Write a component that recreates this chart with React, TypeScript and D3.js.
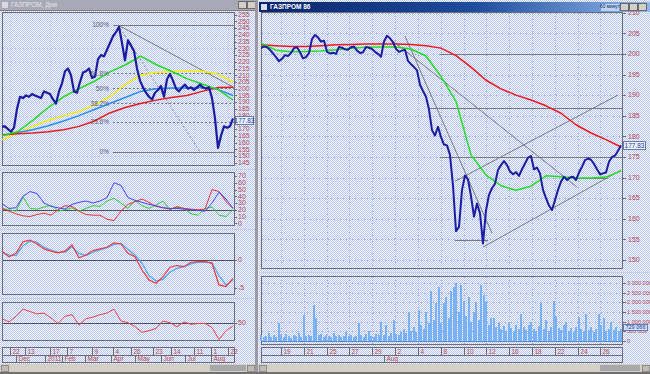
import React from "react";
import * as d3 from "d3";

const W = 650;
const H = 374;

// ---------------- LEFT WINDOW (daily) ----------------
const leftClose = [
  171.8, 172, 170, 168, 171, 185, 194, 193, 195, 194, 196, 195, 194, 193, 198, 197, 196, 192, 189, 198,
  204, 213, 215, 210, 198, 197, 205, 212, 213, 215, 208, 209, 222, 225, 224, 229, 234, 239, 242, 246,
  234, 221, 236, 232, 228, 215, 206, 201, 197, 194, 192, 197, 199, 202, 194, 207, 211, 206, 200, 198,
  201, 203, 200, 201, 199, 201, 203, 201, 200, 201, 193, 178, 156, 165, 172, 171, 172, 178,
];
const leftMaGreen = [165, 168, 176.5, 186, 194, 200, 205.5, 212.5, 217.6, 224.2, 218, 213, 207.5, 203.5, 199.5, 191.6];
const leftMaYellow = [162, 167, 172, 176.5, 180, 183, 188, 194, 203, 210, 212, 212.8, 213, 213, 211, 205];
const leftMaBlue = [165.6, 167.5, 169.5, 172.5, 176, 180, 184.5, 189, 193.5, 198, 200, 200.5, 200.5, 201, 199.5, 195];
const leftMaRed = [165.6, 166.5, 167, 168, 169.5, 172, 176, 182, 186, 189, 191.5, 193.5, 195, 198, 200.8, 201];

const adxBlue = [29, 22, 23, 40, 47, 44, 30, 25, 23, 21, 28, 31, 33, 30, 33, 38, 60, 56, 38, 34, 31, 28, 26, 23, 22, 22, 21, 20, 19, 18, 30, 46, 36, 22];
const adxGreen = [22, 20, 18, 39, 22, 21, 24, 27, 18, 20, 23, 18, 22, 26, 25, 33, 37, 30, 22, 34, 26, 22, 27, 33, 20, 25, 22, 14, 12, 22, 24, 12, 10, 20];
const adxRed = [22, 18, 14, 11, 10, 13, 15, 12, 20, 26, 25, 18, 13, 12, 12, 6, 4, 18, 28, 32, 36, 31, 25, 23, 21, 24, 22, 21, 20, 21, 50, 47, 32, 22];
const macdMain = [1.6, 0.6, 1.2, 3.3, 3.6, 2.9, 2.0, 1.6, 1.3, 1.6, 2.7, 0.4, 0.9, 1.7, 2.0, 2.3, 3.1, 2.9, 1.2, 0.6, -1.8, -3.6, -4.2, -3.0, -1.3, -1.0, -1.2, -0.4, -0.3, -0.3, -0.6, -4.5, -4.8, -3.3];
const macdSignal = [1.4, 0.9, 0.8, 2.6, 3.4, 3.2, 2.3, 1.8, 1.4, 1.4, 2.4, 1.2, 0.8, 1.4, 1.8, 2.2, 2.8, 3.0, 1.9, 0.9, -0.6, -2.8, -3.8, -3.5, -2.2, -1.5, -1.2, -0.7, -0.4, -0.4, -0.5, -2.8, -4.5, -3.6];
const rsiLine = [55, 51, 58, 67, 64, 61, 62, 56, 49, 58, 60, 47, 55, 57, 60, 62, 67, 52, 50, 45, 38, 40, 43, 52, 50, 45, 51, 48, 49, 49, 44, 29, 40, 46];

const leftPriceTicks = [255, 250, 245, 240, 235, 230, 225, 220, 215, 210, 205, 200, 195, 190, 185, 180, 175, 170, 165, 160, 155, 150, 145];
const adxTicks = [70, 60, 50, 40, 30, 20, 10, 0];
const leftDayDates = ["2010-11-22", "2010-12-13", "2011-01-17", "2011-02-07", "2011-03-09", "2011-04-04", "2011-04-26", "2011-05-23", "2011-06-14", "2011-07-11", "2011-08-01", "2011-08-22"];
const leftDayLabels = ["22", "13", "17", "7", "9", "4", "26", "23", "14", "11", "1", "22"];
const leftMonthDates = ["2010-12-01", "2011-01-11", "2011-02-01", "2011-03-01", "2011-04-01", "2011-05-01", "2011-06-01", "2011-07-01", "2011-08-01"];
const leftMonthLabels = ["Dec", "2011", "Feb", "Mar", "Apr", "May", "Jun", "Jul", "Aug"];

const fibLevels = [1, 0.618, 0.5, 0.382, 0.236, 0];
const fibLabels = ["100%", "61.8%", "50%", "38.2%", "23.6%", "0%"];
const fibHigh = 247.3;
const fibLow = 153.2;
const fibStartIndex = 37;
const leftTrend = [[38.7, 247.3], [77.7, 200.5]];
const leftDashed = [[38.7, 247.3], [66, 153]];
const leftLastValue = 177.83;
const leftLast = "177.83";

// ---------------- RIGHT WINDOW (hourly) ----------------
const rightClose = [
  201.4, 201.8, 201.6, 201.0, 200.1, 199.2, 198.2, 198.8, 199.7, 199.5, 200.2, 201.4, 201.6, 200.4, 198.9, 199.2, 200.2, 203.6, 204.6, 204.0,
  203.0, 203.2, 200.5, 200.1, 200.3, 200.0, 201.7, 201.5, 201.1, 201.0, 201.6, 201.8, 200.8, 200.2, 200.4, 201.7, 201.5, 201.2, 200.5, 200.0,
  199.3, 203.0, 204.4, 203.8, 202.8, 201.2, 200.5, 200.8, 201.0, 198.3, 197.5, 196.8, 196.0, 192.5, 191.0, 189.6, 186.5, 181.5, 180.2, 182.3,
  179.8, 178.0, 177.8, 175.5, 168.0, 157.0, 158.0, 167.0, 170.5, 169.5, 165.5, 160.5, 163.7, 161.3, 154.0, 162.0, 165.8, 167.4, 168.5, 171.8,
  173.0, 174.0, 173.0, 171.5, 170.8, 171.3, 170.4, 172.0, 173.4, 174.8, 175.2, 172.0, 172.4, 171.0, 167.0, 165.0, 163.2, 162.1, 164.5, 167.0,
  169.0, 170.2, 169.4, 170.0, 170.2, 169.4, 171.2, 172.6, 174.2, 174.6, 174.3, 173.3, 172.0, 170.8, 171.0, 171.2, 173.8, 175.0, 175.3, 176.5,
  177.8,
];
const rightMaGreen = [202.6, 200.9, 200.5, 200.6, 200.7, 201.0, 201.4, 201.6, 201.7, 201.7, 201.2, 199.5, 194.5, 188.5, 175.5, 170.6, 168.0, 166.9, 167.9, 170.4, 170.2, 169.9, 169.9, 170.1, 171.6];
const rightMaRed = [202.2, 202.0, 201.8, 201.8, 202.0, 202.2, 202.3, 202.4, 202.4, 202.4, 202.3, 202.0, 201.4, 199.6, 196.8, 193.6, 191.5, 190.0, 188.8, 187.4, 185.6, 182.8, 180.8, 179.2, 177.4];
const rightVolume = [
  320, 180, 260, 420, 210, 300, 170, 920, 280, 190, 350, 230, 160, 300, 240, 410, 190, 1340, 260, 310,
  220, 1860, 1200, 280, 350, 200, 300, 260, 180, 420, 240, 310, 190, 270, 450, 220, 300, 180, 260, 920,
  280, 210, 330, 520, 240, 190, 360, 280, 1000, 310, 800, 260, 420, 1100, 350, 300, 480, 620, 400, 1500,
  520, 700, 450, 1600, 800, 600, 1500, 900, 2600, 1100, 1950, 2800, 900, 1950, 2300, 1200, 2600, 2820, 3000, 1500,
  2900, 2100, 1300, 2300, 1000, 1500, 2000, 1100, 2900, 2400, 2000, 800, 1200, 1200, 700, 900, 600, 750, 500, 950,
  650, 500, 800, 600, 1400, 700, 550, 800, 1000, 600, 500, 750, 1950, 600, 1100, 500, 700, 2100, 1300, 650,
  550, 800, 1000, 500, 650, 450, 700, 1250, 600, 500, 1400, 550, 700, 450, 600, 1400, 800, 1200, 500, 600,
  1000, 550, 730, 500, 600,
];
const rightPriceTicks = [210, 205, 200, 195, 190, 185, 180, 175, 170, 165, 160, 155, 150];
const volumeTicks = [3000, 2500, 2000, 1500, 1000, 500, 0];
const volumeTickLabels = ["3 000 000", "2 500 000", "2 000 000", "1 500 000", "1 000 000", "500 000", "0"];
const rightDayNumbers = [1, 3, 5, 7, 9, 11, 13, 15, 17, 19, 21, 23, 25, 27, 29];
const rightDayLabels = ["19", "21", "25", "27", "29", "2", "4", "8", "10", "12", "16", "18", "22", "24", "26"];
const rightMonthDay = [10];
const rightMonthLabels = ["Aug"];
const rightHLines = [
  [59.7, 120.7, 200],
  [55.7, 120.7, 186.9],
  [59.7, 120.7, 175],
  [64.7, 75.7, 154.8],
  [104, 115.3, 170],
];
const rightTrendLines = [
  [[42.3, 204.1], [105.3, 167.7]],
  [[48, 204.3], [77, 156.5]],
  [[64.7, 169.1], [119, 190.0]],
  [[74, 153.1], [120, 171.8]],
];
const rightLast = "177.83";
const rightVolLast = "729 066";

const FONT = "'Liberation Sans', Arial, sans-serif";
const LBL = "#b84848";
const FRAME = "#6c6c78";
const GRID = "#9bb0e4";

function path(values: number[], x: d3.ScaleLinear<number, number>, y: d3.ScaleLinear<number, number>) {
  return d3.line<number>().x((_, i) => x(i)).y((d) => y(d))(values) || "";
}

export default function App() {
  // ----- left scales
  const lx = d3.scaleLinear().domain([0, leftClose.length - 1]).range([2, 233]);
  const lmx = d3.scaleLinear().domain([0, leftMaGreen.length - 1]).range([2, 233]);
  const lix = d3.scaleLinear().domain([0, adxBlue.length - 1]).range([2, 233]);
  const ly = d3.scaleLinear().domain([145, 255]).range([162.7, 14.7]);
  const adxY = d3.scaleLinear().domain([0, 70]).range([223.3, 176]);
  const macdY = d3.scaleLinear().domain([-5, 0]).range([287.7, 260]);
  const rsiY = d3.scaleLinear().domain([30, 70]).range([338.7, 306.7]);
  const lt = d3
    .scaleTime()
    .domain([new Date("2010-11-22"), new Date("2011-01-11"), new Date("2011-08-22")])
    .range([10, 45, 228]);

  // ----- right scales
  const rx = d3.scaleLinear().domain([0, rightClose.length - 1]).range([261, 621]);
  const rmx = d3.scaleLinear().domain([0, rightMaGreen.length - 1]).range([261, 621]);
  const rvx = d3.scaleLinear().domain([0, rightVolume.length - 1]).range([261, 621]);
  const rd = d3.scaleLinear().domain([-0.75, 30.8]).range([261, 621]);
  const ry = d3.scaleLinear().domain([150, 210]).range([259.9, 12.7]);
  const vy = d3.scaleLinear().domain([0, 3000]).range([340.7, 283.3]);

  const fibPrice = (f: number) => fibLow + (fibHigh - fibLow) * f;
  const leftTagY = Math.round(ly(leftLastValue)) + 1;

  const txt = (x: number, y: number, s: string, fill = LBL, anchor: any = "start", size = 7, weight: any = "normal") => (
    <text x={x} y={y} fill={fill} fontSize={size} fontFamily={FONT} textAnchor={anchor} fontWeight={weight} dominantBaseline="middle">
      {s}
    </text>
  );

  return (
    <svg width={W} height={H} style={{ position: "absolute", left: 0, top: 0, display: "block" }} shapeRendering="crispEdges">
      <defs>
        <pattern id="dith" width="2" height="2" patternUnits="userSpaceOnUse">
          <rect width="2" height="2" fill="#f3f6fe" />
          <rect x="0" y="0" width="1" height="1" fill="#b9c7ee" />
          <rect x="1" y="1" width="1" height="1" fill="#b9c7ee" />
        </pattern>
        <linearGradient id="title" x1="0" x2="1" y1="0" y2="0">
          <stop offset="0" stopColor="#0a246a" />
          <stop offset="0.55" stopColor="#1e4c9c" />
          <stop offset="1" stopColor="#8fb8ea" />
        </linearGradient>
        <clipPath id="clipL"><rect x={2} y={12} width={233} height={154} /></clipPath>
        <clipPath id="clipL2"><rect x={2} y={172} width={233} height={54} /></clipPath>
        <clipPath id="clipL3"><rect x={2} y={233} width={233} height={62} /></clipPath>
        <clipPath id="clipL4"><rect x={2} y={302} width={233} height={39} /></clipPath>
        <clipPath id="clipR"><rect x={261} y={12} width={362} height={257} /></clipPath>
        <clipPath id="clipAll"><rect x={0} y={0} width={W} height={H} /></clipPath>
      </defs>

      <rect width={W} height={H} fill="url(#dith)" />

      {/* ===== LEFT WINDOW ===== */}
      <rect x={0} y={0} width={256} height={10} fill="#a7aab6" />
      <rect x={2} y={2} width={6} height={6} fill="#d8d8e0" />
      {txt(11, 5.5, "ГАЗПРОМ, Дни", "#e4e6ee", "start", 6.5)}
      <rect x={238} y={1.5} width={8} height={7} fill="#d4d0c8" stroke="#555" strokeWidth={0.8} />
      <rect x={247} y={1.5} width={8} height={7} fill="#d4d0c8" stroke="#555" strokeWidth={0.8} />
      <line x1={0} x2={256} y1={10.5} y2={10.5} stroke="#808080" />

      {/* left price panel */}
      <rect x={2.5} y={12.5} width={232} height={153} fill="none" stroke={FRAME} />
      {leftPriceTicks.filter((t) => t % 10 === 0).map((t) => (
        <line key={"lg" + t} x1={3} x2={234} y1={Math.round(ly(t)) + 0.5} y2={Math.round(ly(t)) + 0.5} stroke={GRID} strokeDasharray="1,3" strokeOpacity={0.5} />
      ))}
      {leftDayDates.map((d, i) => (
        <line key={"lv" + i} x1={Math.round(lt(new Date(d))) + 0.5} x2={Math.round(lt(new Date(d))) + 0.5} y1={13} y2={165} stroke={GRID} strokeDasharray="1,3" strokeOpacity={0.5} />
      ))}
      <g clipPath="url(#clipL)">
        {fibLevels.map((f, i) => {
          const yy = Math.round(ly(fibPrice(f))) + 0.5;
          const solid = f === 1 || f === 0;
          return (
            <line key={"fib" + i} x1={lx(fibStartIndex)} x2={235} y1={yy} y2={yy} stroke="#787878" strokeDasharray={solid ? undefined : "2,2"} />
          );
        })}
        <line x1={lx(leftTrend[0][0])} y1={ly(leftTrend[0][1])} x2={lx(leftTrend[1][0])} y2={ly(leftTrend[1][1])} stroke="#7a7a7a" shapeRendering="auto" />
        <line x1={lx(leftDashed[0][0])} y1={ly(leftDashed[0][1])} x2={lx(leftDashed[1][0])} y2={ly(leftDashed[1][1])} stroke="#8a8a8a" strokeDasharray="2,2" shapeRendering="auto" />
        <g fill="none" shapeRendering="auto" strokeLinejoin="round">
          <path d={path(leftMaYellow, lmx, ly)} stroke="#f4f000" strokeWidth={1.5} />
          <path d={path(leftMaBlue, lmx, ly)} stroke="#2a8ef0" strokeWidth={1.5} />
          <path d={path(leftMaRed, lmx, ly)} stroke="#e81c1c" strokeWidth={1.5} />
          <path d={path(leftMaGreen, lmx, ly)} stroke="#22dc22" strokeWidth={1.5} />
          <path d={path(leftClose, lx, ly)} stroke="#1c1ca0" strokeWidth={2.2} />
        </g>
      </g>
      {fibLevels.map((f, i) => txt(109, ly(fibPrice(f)) + 0.5, fibLabels[i], "#5a5a6a", "end", 6.5))}
      {leftPriceTicks.map((t) => (
        <g key={"lpt" + t}>
          <line x1={235} x2={237} y1={Math.round(ly(t)) + 0.5} y2={Math.round(ly(t)) + 0.5} stroke={FRAME} />
          {t < leftLastValue && leftLastValue - t < 5 ? null : txt(238, ly(t) + 0.5, String(t))}
        </g>
      ))}
      <rect x={235.5} y={leftTagY - 3.5} width={18} height={8} fill="#e8f0ff" stroke="#6a7ab0" />
      {txt(244.5, leftTagY + 0.8, leftLast, "#2a3a8a", "middle", 6.5)}

      {/* ADX panel */}
      <line x1={0} x2={256} y1={169.5} y2={169.5} stroke="#c8cfe8" />
      <rect x={2.5} y={172.5} width={232} height={53} fill="none" stroke={FRAME} />
      <line x1={3} x2={234} y1={Math.round(adxY(20)) + 0.5} y2={Math.round(adxY(20)) + 0.5} stroke="#505060" />
      <g clipPath="url(#clipL2)" fill="none" shapeRendering="auto">
        <path d={path(adxGreen, lix, adxY)} stroke="#2ed02e" strokeWidth={1} />
        <path d={path(adxRed, lix, adxY)} stroke="#f03030" strokeWidth={1} />
        <path d={path(adxBlue, lix, adxY)} stroke="#4646f0" strokeWidth={1} />
      </g>
      {adxTicks.map((t) => (
        <g key={"at" + t}>
          <line x1={235} x2={237} y1={Math.round(adxY(t)) + 0.5} y2={Math.round(adxY(t)) + 0.5} stroke={FRAME} />
          {txt(238, adxY(t) + 0.5, String(t))}
        </g>
      ))}

      {/* MACD panel */}
      <line x1={0} x2={256} y1={229.5} y2={229.5} stroke="#c8cfe8" />
      <rect x={2.5} y={233.5} width={232} height={61} fill="none" stroke={FRAME} />
      <line x1={3} x2={234} y1={Math.round(macdY(0)) + 0.5} y2={Math.round(macdY(0)) + 0.5} stroke="#505060" />
      <g clipPath="url(#clipL3)" fill="none" shapeRendering="auto">
        <path d={path(macdSignal, lix, macdY)} stroke="#48a8f4" strokeWidth={1.2} />
        <path d={path(macdMain, lix, macdY)} stroke="#f03838" strokeWidth={1.2} />
      </g>
      {[0, -5].map((t) => (
        <g key={"mt" + t}>
          <line x1={235} x2={237} y1={Math.round(macdY(t)) + 0.5} y2={Math.round(macdY(t)) + 0.5} stroke={FRAME} />
          {txt(238, macdY(t) + 0.5, String(t))}
        </g>
      ))}

      {/* RSI panel */}
      <line x1={0} x2={256} y1={298.5} y2={298.5} stroke="#c8cfe8" />
      <rect x={2.5} y={302.5} width={232} height={38} fill="none" stroke={FRAME} />
      <line x1={3} x2={234} y1={Math.round(rsiY(50)) + 0.5} y2={Math.round(rsiY(50)) + 0.5} stroke="#505060" />
      <g clipPath="url(#clipL4)" fill="none" shapeRendering="auto">
        <path d={path(rsiLine, lix, rsiY)} stroke="#f04040" strokeWidth={1} />
      </g>
      <line x1={235} x2={237} y1={Math.round(rsiY(50)) + 0.5} y2={Math.round(rsiY(50)) + 0.5} stroke={FRAME} />
      {txt(238, rsiY(50) + 0.5, "50")}

      {/* left date rows */}
      <rect x={2.5} y={347.5} width={232} height={8} fill="none" stroke={FRAME} />
      <rect x={2.5} y={355.5} width={232} height={7} fill="none" stroke={FRAME} />
      {leftDayDates.map((d, i) => {
        const xx = Math.round(lt(new Date(d))) + 0.5;
        return (
          <g key={"ld" + i}>
            <line x1={xx} x2={xx} y1={348} y2={355} stroke={FRAME} />
            {txt(xx + 2, 352, leftDayLabels[i], LBL, "start", 6.5)}
          </g>
        );
      })}
      {leftMonthDates.map((d, i) => {
        const xx = Math.round(lt(new Date(d))) + 0.5;
        return (
          <g key={"lm" + i}>
            <line x1={xx} x2={xx} y1={356} y2={362} stroke={FRAME} />
            {txt(xx + 2, 359.5, leftMonthLabels[i], LBL, "start", 6.5)}
          </g>
        );
      })}

      {/* ===== separator between windows ===== */}
      <rect x={255} y={0} width={3} height={H} fill="#9a9aa6" />
      <line x1={258.5} x2={258.5} y1={0} y2={H} stroke="#e8e8ee" />

      {/* ===== RIGHT WINDOW ===== */}
      <rect x={259} y={2} width={391} height={10} fill="url(#title)" />
      <rect x={261} y={4} width={6} height={6} fill="#d8e0f0" />
      {txt(270, 7.3, "ГАЗПРОМ 86", "#ffffff", "start", 6.5, "bold")}
      <rect x={601} y={3.5} width={18} height={7} fill="#bcd4f0" />
      {txt(610, 7.2, "60 минут", "#0a246a", "middle", 4.8)}
      <rect x={620} y={3.5} width={8} height={7} fill="#d4d0c8" stroke="#555" strokeWidth={0.8} />
      <rect x={629} y={3.5} width={8} height={7} fill="#d4d0c8" stroke="#555" strokeWidth={0.8} />
      <rect x={638} y={3.5} width={8} height={7} fill="#d4d0c8" stroke="#555" strokeWidth={0.8} />

      {/* right price panel */}
      <rect x={261.5} y={12.5} width={361} height={256} fill="none" stroke={FRAME} />
      {rightPriceTicks.map((t) => (
        <line key={"rg" + t} x1={262} x2={622} y1={Math.round(ry(t)) + 0.5} y2={Math.round(ry(t)) + 0.5} stroke={GRID} strokeDasharray="1,2" />
      ))}
      {rightDayNumbers.map((d) => (
        <line key={"rv" + d} x1={Math.round(rd(d)) + 0.5} x2={Math.round(rd(d)) + 0.5} y1={13} y2={268} stroke={GRID} strokeDasharray="1,2" />
      ))}
      <g clipPath="url(#clipR)">
        {rightHLines.map((l, i) => (
          <line key={"rh" + i} x1={rx(l[0])} x2={Math.min(rx(l[1]), 622)} y1={Math.round(ry(l[2])) + 0.5} y2={Math.round(ry(l[2])) + 0.5} stroke="#7a7a7a" />
        ))}
        {rightTrendLines.map((l, i) => (
          <line key={"rt" + i} x1={rx(l[0][0])} y1={ry(l[0][1])} x2={rx(l[1][0])} y2={ry(l[1][1])} stroke="#7a7a7a" shapeRendering="auto" />
        ))}
        <g fill="none" shapeRendering="auto" strokeLinejoin="round">
          <path d={path(rightMaRed, rmx, ry)} stroke="#f01818" strokeWidth={1.5} />
          <path d={path(rightMaGreen, rmx, ry)} stroke="#20e020" strokeWidth={1.5} />
          <path d={path(rightClose, rx, ry)} stroke="#1c1ca0" strokeWidth={2} />
        </g>
      </g>
      {rightPriceTicks.map((t) => (
        <g key={"rpt" + t}>
          <line x1={623} x2={626} y1={Math.round(ry(t)) + 0.5} y2={Math.round(ry(t)) + 0.5} stroke={FRAME} />
          {txt(628, ry(t) + 0.5, String(t))}
        </g>
      ))}
      <rect x={623.5} y={141.5} width={22} height={8} fill="#e8f0ff" stroke="#6a7ab0" />
      {txt(634.5, 145.8, rightLast, "#2a3a8a", "middle", 6.5)}

      {/* volume panel */}
      <line x1={259} x2={650} y1={272.5} y2={272.5} stroke="#c8cfe8" />
      <rect x={261.5} y={276.5} width={361} height={68} fill="none" stroke={FRAME} />
      {volumeTicks.map((t) => (
        <line key={"vg" + t} x1={262} x2={622} y1={Math.round(vy(t)) + 0.5} y2={Math.round(vy(t)) + 0.5} stroke={GRID} strokeDasharray="1,2" />
      ))}
      {rightDayNumbers.map((d) => (
        <line key={"vv" + d} x1={Math.round(rd(d)) + 0.5} x2={Math.round(rd(d)) + 0.5} y1={277} y2={344} stroke={GRID} strokeDasharray="1,2" />
      ))}
      {rightVolume.map((v, i) => (
        <rect key={"vb" + i} x={rvx(i) - 1} y={vy(v)} width={2} height={vy(0) - vy(v)} fill="#78b2f4" />
      ))}
      <line x1={262} x2={622} y1={Math.round(vy(0)) + 0.5} y2={Math.round(vy(0)) + 0.5} stroke="#5a8ad8" />
      <g clipPath="url(#clipAll)">
        {volumeTicks.map((t, i) => (
          <g key={"vt" + t}>
            <line x1={623} x2={626} y1={Math.round(vy(t)) + 0.5} y2={Math.round(vy(t)) + 0.5} stroke={FRAME} />
            {txt(627, vy(t) + 0.5, volumeTickLabels[i], LBL, "start", 5.6)}
          </g>
        ))}
      </g>
      <rect x={623.5} y={324} width={24} height={6.5} fill="#cfe2ff" stroke="#6a7ab0" />
      {txt(635.5, 327.6, rightVolLast, "#2a3a8a", "middle", 5.6)}

      {/* right date rows */}
      <rect x={261.5} y={347.5} width={361} height={8} fill="none" stroke={FRAME} />
      <rect x={261.5} y={355.5} width={361} height={7} fill="none" stroke={FRAME} />
      {rightDayNumbers.map((d, i) => {
        const xx = Math.round(rd(d)) + 0.5;
        return (
          <g key={"rdl" + d}>
            <line x1={xx} x2={xx} y1={348} y2={355} stroke={FRAME} />
            {txt(xx + 2, 352, rightDayLabels[i], LBL, "start", 6.5)}
          </g>
        );
      })}
      {rightMonthDay.map((d, i) => {
        const xx = Math.round(rd(d)) + 0.5;
        return (
          <g key={"rml" + d}>
            <line x1={xx} x2={xx} y1={356} y2={362} stroke={FRAME} />
            {txt(xx + 2, 359.5, rightMonthLabels[i], LBL, "start", 6.5)}
          </g>
        );
      })}

      {/* scrollbars */}
      <rect x={0} y={364} width={255} height={8} fill="#d4d0c8" />
      <rect x={1} y={365} width={7} height={6} fill="#c0bcb4" stroke="#808080" strokeWidth={0.8} />
      <rect x={210} y={365} width={36} height={6} fill="#a8a8a8" />
      <rect x={247} y={365} width={7} height={6} fill="#c0bcb4" stroke="#808080" strokeWidth={0.8} />
      <rect x={258} y={364} width={392} height={8} fill="#d4d0c8" />
      <rect x={259} y={365} width={7} height={6} fill="#c0bcb4" stroke="#808080" strokeWidth={0.8} />
      <rect x={600} y={365} width={40} height={6} fill="#a8a8a8" />
      <rect x={642} y={365} width={7} height={6} fill="#c0bcb4" stroke="#808080" strokeWidth={0.8} />
      <rect x={0} y={372} width={W} height={2} fill="#707070" />
    </svg>
  );
}
